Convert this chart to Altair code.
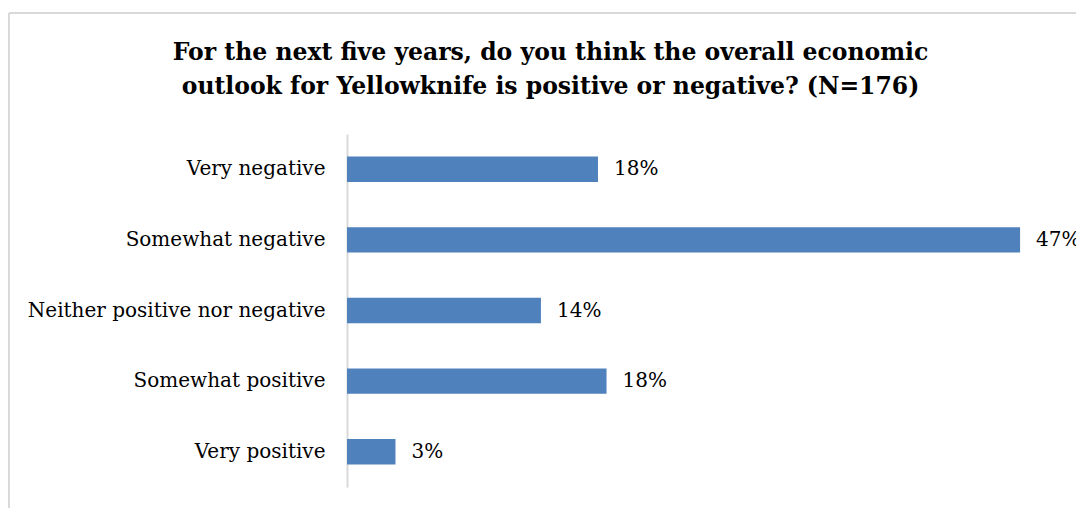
import altair as alt
import pandas as pd

categories = ["Very negative", "Somewhat negative", "Neither positive nor negative",
              "Somewhat positive", "Very positive"]
values = [17.6, 47.2, 13.6, 18.2, 3.4]
labels = ["18%", "47%", "14%", "18%", "3%"]
title_lines = ["For the next five years, do you think the overall economic",
               "outlook for Yellowknife is positive or negative? (N=176)"]

df = pd.DataFrame({"cat": categories, "val": values, "lab": labels})

FONT = "DejaVu Serif"
W, H = 713, 353

y_enc = alt.Y("cat:N", sort=categories, title=None,
              scale=alt.Scale(paddingInner=0.64, paddingOuter=0.32),
              axis=alt.Axis(labelFont=FONT, labelFontSize=20, labelColor="#000000",
                            labelPadding=22, ticks=False, domainColor="#d9d9d9",
                            domainWidth=2, labelLimit=400))
x_enc = alt.X("val:Q", title=None, scale=alt.Scale(domain=[0, 50]), axis=None)

bars = alt.Chart(df).mark_bar(color="#4F81BD").encode(x=x_enc, y=y_enc)
text = alt.Chart(df).mark_text(align="left", dx=16, font=FONT, fontSize=20,
                               color="#000000").encode(x=x_enc, y=y_enc, text="lab:N")

border = alt.Chart(df).mark_rule(color="#d9d9d9", strokeWidth=2).encode(
    x=alt.value(-338), x2=alt.value(-338), y=alt.value(-121), y2=alt.value(380))
border_top = alt.Chart(df).mark_rule(color="#d9d9d9", strokeWidth=2).encode(
    x=alt.value(-338), x2=alt.value(740), y=alt.value(-121), y2=alt.value(-121))

chart = alt.layer(border, border_top, bars, text).properties(
    width=W, height=H,
    title=alt.Title(title_lines, font=FONT, fontSize=23.5, fontWeight="bold",
                    color="#000000", anchor="middle", dx=-153, offset=-86,
                    lineHeight=34),
    autosize="none",
    padding={"left": 347, "top": 134, "right": 16, "bottom": 21},
).configure(background="white").configure_view(strokeWidth=0)

chart.save("out.html", embed_options={"renderer": "svg", "actions": False})
